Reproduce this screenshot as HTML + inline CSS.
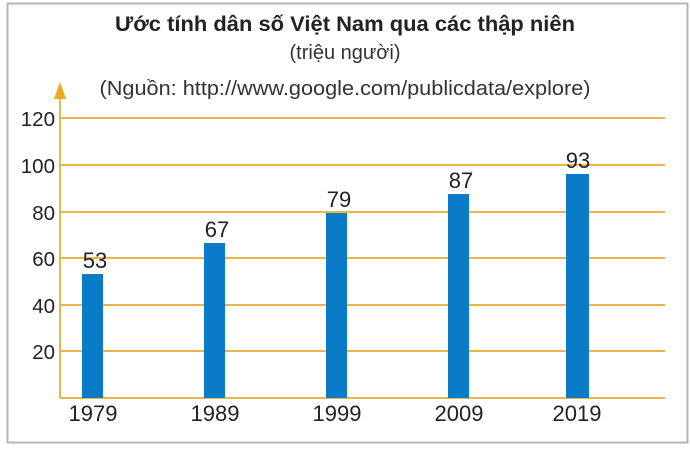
<!DOCTYPE html>
<html><head><meta charset="utf-8"><style>
html,body{margin:0;padding:0;background:#fff;}
body{width:690px;height:448px;overflow:hidden;}
text{font-family:"Liberation Sans",sans-serif;}
</style></head><body>
<svg width="690" height="448" xmlns="http://www.w3.org/2000/svg">
<rect x="7.5" y="3.5" width="680" height="439" fill="#fff" stroke="#b5b5b5" stroke-width="2"/>
<text x="345" y="31" text-anchor="middle" font-size="21.5" font-weight="bold" fill="#222" textLength="460" lengthAdjust="spacingAndGlyphs">Ước tính dân số Việt Nam qua các thập niên</text>
<text x="345" y="59" text-anchor="middle" font-size="20" fill="#333">(triệu người)</text>
<text x="345" y="95" text-anchor="middle" font-size="20" fill="#333" textLength="491" lengthAdjust="spacingAndGlyphs">(Nguồn: http://www.google.com/publicdata/explore)</text>
<g stroke="#eab54a" stroke-width="2">
<line x1="60" y1="118" x2="665" y2="118"/>
<line x1="60" y1="165" x2="665" y2="165"/>
<line x1="60" y1="212" x2="665" y2="212"/>
<line x1="60" y1="258" x2="665" y2="258"/>
<line x1="60" y1="305" x2="665" y2="305"/>
<line x1="60" y1="351" x2="665" y2="351"/>
<line x1="60" y1="398" x2="665" y2="398"/>
<line x1="60" y1="398" x2="60" y2="92"/>
</g>
<polygon points="60,82 54,99 66,99" fill="#f2a81d"/>
<g font-size="20.5" fill="#222" text-anchor="end">
<text x="55" y="126">120</text><text x="55" y="173">100</text><text x="55" y="220">80</text>
<text x="55" y="266">60</text><text x="55" y="313">40</text><text x="55" y="359">20</text>
</g>
<g fill="#0a7cc7">
<rect x="82" y="274" width="21" height="124"/>
<rect x="204" y="243" width="21" height="155"/>
<rect x="326" y="213" width="21" height="185"/>
<rect x="448" y="194" width="21" height="204"/>
<rect x="566" y="174" width="23" height="224"/>
</g>
<g font-size="22" fill="#222" text-anchor="middle">
<text x="95" y="268">53</text><text x="217" y="237">67</text><text x="339" y="207">79</text>
<text x="461" y="188">87</text><text x="578" y="168">93</text>
<text x="93" y="421">1979</text><text x="215" y="421">1989</text><text x="337" y="421">1999</text>
<text x="459" y="421">2009</text><text x="577" y="421">2019</text>
</g>
</svg>
</body></html>
